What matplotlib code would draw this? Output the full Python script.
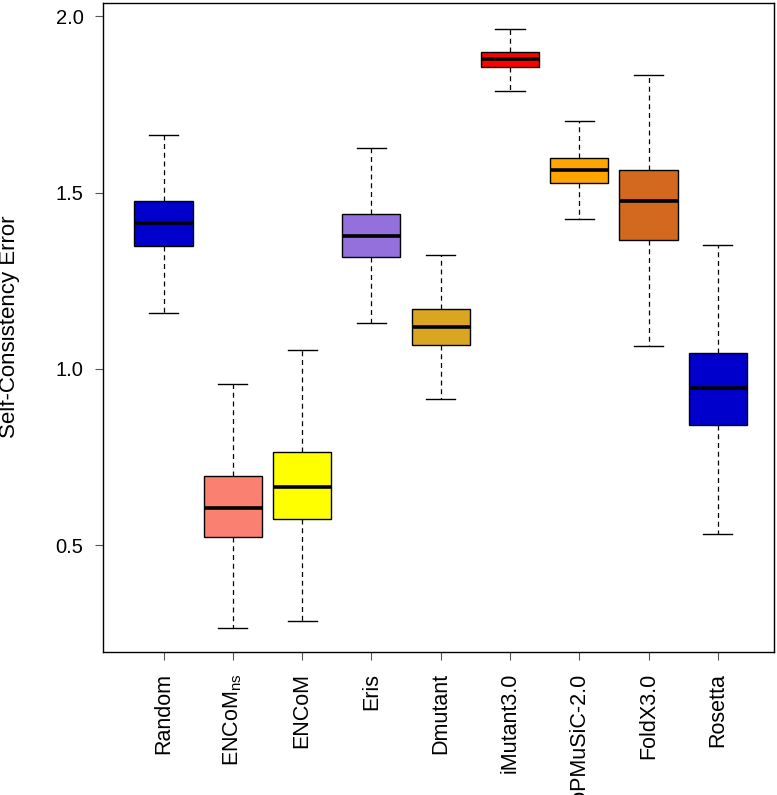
import matplotlib
matplotlib.use('Agg')
import matplotlib.pyplot as plt

plt.rcParams['font.family'] = ['Liberation Sans', 'DejaVu Sans']
plt.rcParams['mathtext.fontset'] = 'custom'
plt.rcParams['mathtext.rm'] = 'Liberation Sans'
plt.rcParams['mathtext.it'] = 'Liberation Sans'

# values
methods = ['Random', r'ENCoM$_{\rm ns}$', 'ENCoM', 'Eris', 'Dmutant',
           'iMutant3.0', 'PoPMuSiC-2.0', 'FoldX3.0', 'Rosetta']
whislo = [1.160, 0.266, 0.286, 1.130, 0.915, 1.788, 1.425, 1.066, 0.533]
q1     = [1.350, 0.524, 0.575, 1.317, 1.068, 1.856, 1.528, 1.365, 0.841]
med    = [1.414, 0.606, 0.666, 1.377, 1.120, 1.879, 1.563, 1.475, 0.946]
q3     = [1.475, 0.697, 0.765, 1.439, 1.171, 1.900, 1.599, 1.564, 1.045]
whishi = [1.662, 0.957, 1.054, 1.626, 1.323, 1.965, 1.703, 1.832, 1.352]
colors = ['#0000CD', '#FA8072', '#FFFF00', '#9370DB', '#DAA520',
          '#FF0000', '#FFA500', '#D2691E', '#0000CD']

stats = []
for i in range(len(methods)):
    stats.append(dict(whislo=whislo[i], q1=q1[i], med=med[i], q3=q3[i],
                      whishi=whishi[i], fliers=[]))

fig = plt.figure(figsize=(7.77, 7.95), dpi=100)
ax = fig.add_axes([0.1326, 0.180, 0.8634, 0.816])

pos = list(range(1, len(methods) + 1))
bp = ax.bxp(stats, positions=pos, widths=0.84, patch_artist=True,
            showfliers=False,
            boxprops=dict(edgecolor='black', linewidth=1.0),
            medianprops=dict(color='black', linewidth=2.6, solid_capstyle='butt'),
            whiskerprops=dict(color='black', linestyle=(0, (4, 3)), linewidth=0.9),
            capprops=dict(color='black', linewidth=1.0),
            capwidths=0.42)
for patch, c in zip(bp['boxes'], colors):
    patch.set_facecolor(c)

ax.set_xlim(0.126, 9.81)
ax.set_ylim(0.198, 2.037)
ax.set_yticks([0.5, 1.0, 1.5, 2.0])
ax.set_yticklabels(['0.5', '1.0', '1.5', '2.0'], fontsize=14.5)
ax.set_xticks(pos)
ax.set_xticklabels(methods, rotation=90, fontsize=15.5, va='top')
ax.tick_params(axis='x', length=6, pad=9, color='#555555')
ax.tick_params(axis='y', length=6, pad=8, color='#555555')
for s in ax.spines.values():
    s.set_linewidth(1.0)
    s.set_color('black')

# y axis title, placed like R's ylab
fig.text(10 / 777, 1 - 327 / 795, 'Self-Consistency Error', fontsize=16,
         rotation=90, ha='center', va='center')

fig.savefig('out.png', dpi=100)
